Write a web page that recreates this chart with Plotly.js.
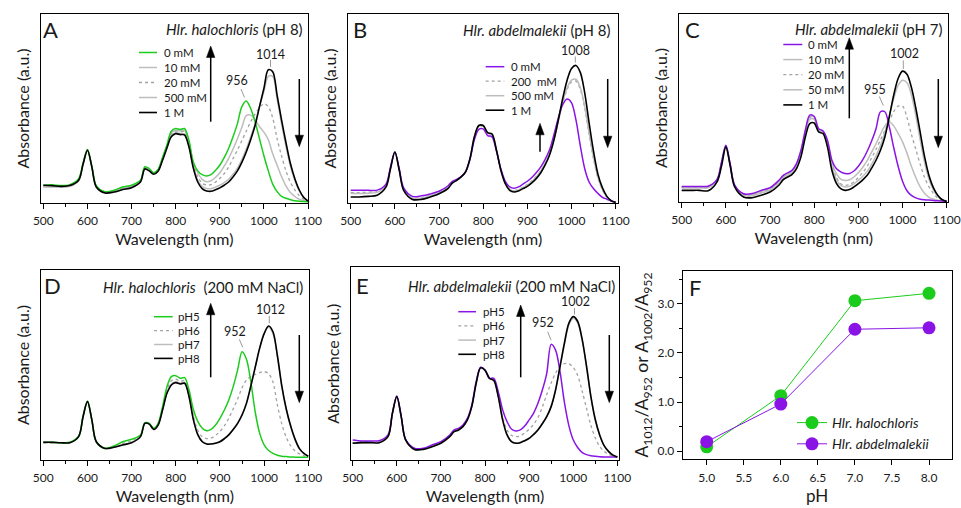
<!DOCTYPE html>
<html><head><meta charset="utf-8">
<script src="https://cdn.plot.ly/plotly-3.0.1.min.js"></script>
<style>html,body{margin:0;padding:0;background:#fff}#chart{width:961px;height:508px}</style>
</head><body><div id="chart"></div>
<script>
// ---------- DATA ----------
const wavelength = [500,520,540,560,580,590,600,610,620,640,660,680,700,720,730,740,750,760,770,780,790,800,810,820,830,840,850,860,870,880,890,900,910,920,930,940,950,960,970,980,990,1000,1010,1020,1030,1040,1050,1060,1070,1080,1090,1100];
const xTickVals = [500,600,700,800,900,1000,1100];

// Panel A: Hlr. halochloris (pH 8), NaCl series
const A_0mM   = [.094,.097,.092,.097,.129,.21,.283,.194,.092,.06,.067,.085,.094,.12,.192,.182,.16,.178,.24,.306,.38,.394,.389,.394,.332,.215,.17,.15,.143,.15,.172,.2,.24,.288,.35,.42,.51,.54,.50,.43,.34,.25,.17,.10,.06,.035,.025,.018,.012,.009,.008,.007];
const A_10mM  = [.085,.086,.085,.09,.122,.208,.28,.192,.09,.058,.064,.08,.09,.117,.187,.177,.157,.174,.235,.30,.37,.385,.382,.385,.322,.215,.16,.125,.113,.118,.135,.16,.195,.235,.285,.34,.40,.462,.465,.44,.405,.375,.335,.26,.20,.14,.09,.055,.035,.02,.012,.008];
const A_20mM  = [.088,.088,.086,.09,.12,.207,.28,.192,.09,.057,.062,.076,.086,.115,.185,.175,.156,.172,.232,.298,.365,.38,.377,.378,.315,.205,.14,.105,.095,.097,.11,.13,.155,.19,.235,.28,.33,.38,.43,.47,.505,.525,.51,.45,.34,.25,.17,.11,.07,.04,.02,.01];
const A_500mM = [.086,.085,.084,.088,.118,.205,.28,.19,.088,.055,.06,.073,.083,.113,.182,.172,.154,.17,.228,.295,.355,.372,.368,.366,.305,.195,.12,.088,.077,.076,.084,.094,.108,.126,.152,.185,.23,.285,.35,.42,.51,.59,.67,.67,.55,.42,.30,.195,.12,.065,.03,.01];
const A_1M    = [.094,.092,.088,.092,.12,.205,.279,.19,.085,.053,.058,.071,.081,.111,.18,.17,.152,.168,.225,.29,.35,.367,.362,.36,.297,.185,.111,.076,.064,.062,.07,.08,.094,.111,.138,.17,.215,.27,.335,.41,.51,.606,.705,.695,.57,.44,.32,.21,.13,.07,.03,.01];

// Panel B: Hlr. abdelmalekii (pH 8)
const B_0mM   = [.067,.067,.067,.068,.10,.19,.27,.18,.08,.035,.038,.048,.062,.09,.115,.125,.14,.165,.23,.335,.39,.392,.357,.35,.275,.18,.115,.085,.078,.085,.10,.115,.135,.16,.19,.23,.28,.36,.45,.52,.55,.53,.44,.30,.18,.11,.075,.05,.03,.02,.01,.005];
const B_200mM = [.055,.055,.057,.06,.095,.185,.27,.176,.073,.027,.028,.04,.055,.082,.11,.122,.139,.165,.233,.345,.405,.405,.368,.362,.28,.176,.107,.074,.066,.072,.085,.098,.117,.14,.17,.21,.26,.335,.43,.53,.60,.64,.645,.60,.50,.36,.23,.13,.07,.03,.01,.003];
const B_500mM = [.05,.05,.052,.056,.092,.183,.27,.175,.071,.025,.026,.038,.053,.08,.108,.121,.138,.165,.234,.347,.407,.407,.37,.363,.28,.175,.105,.071,.063,.069,.082,.095,.114,.137,.168,.208,.26,.336,.435,.535,.61,.65,.655,.61,.51,.37,.24,.135,.072,.032,.011,.003];
const B_1M    = [.032,.032,.035,.041,.085,.18,.27,.173,.067,.019,.019,.032,.049,.076,.105,.12,.138,.164,.235,.35,.41,.41,.372,.365,.28,.173,.102,.067,.058,.064,.076,.088,.106,.129,.159,.20,.253,.332,.438,.553,.65,.712,.728,.69,.58,.42,.27,.15,.08,.035,.012,.003];

// Panel C: Hlr. abdelmalekii (pH 7)
const C_0mM   = [.083,.082,.083,.084,.12,.21,.302,.2,.09,.044,.045,.062,.076,.115,.142,.155,.169,.204,.275,.382,.462,.455,.39,.378,.329,.222,.178,.16,.151,.152,.165,.19,.225,.27,.325,.39,.48,.48,.40,.29,.19,.11,.06,.035,.022,.015,.012,.01,.008,.006,.005,.004];
const C_10mM  = [.08,.08,.08,.081,.118,.207,.3,.198,.088,.04,.04,.057,.072,.11,.138,.152,.166,.2,.27,.378,.455,.452,.388,.377,.322,.212,.152,.122,.115,.118,.133,.155,.185,.22,.265,.31,.36,.405,.425,.405,.365,.32,.26,.19,.13,.08,.045,.025,.015,.01,.006,.004];
const C_20mM  = [.078,.078,.078,.079,.117,.205,.299,.197,.087,.038,.037,.053,.068,.105,.135,.148,.162,.195,.265,.372,.45,.448,.386,.375,.315,.205,.132,.097,.089,.092,.108,.13,.158,.19,.235,.28,.33,.38,.43,.48,.51,.51,.45,.36,.28,.20,.13,.08,.045,.02,.01,.004];
const C_50mM  = [.075,.075,.075,.075,.115,.2,.297,.195,.085,.035,.033,.048,.064,.1,.13,.143,.157,.19,.258,.365,.44,.44,.383,.372,.31,.19,.12,.088,.08,.083,.097,.115,.137,.163,.2,.245,.30,.37,.46,.55,.62,.648,.635,.57,.46,.33,.21,.12,.065,.03,.01,.003];
const C_1M    = [.062,.062,.062,.06,.107,.19,.293,.19,.08,.027,.023,.036,.053,.089,.119,.133,.147,.178,.24,.346,.417,.42,.373,.364,.293,.169,.101,.071,.062,.066,.08,.098,.118,.142,.18,.222,.275,.346,.453,.568,.657,.696,.68,.61,.50,.37,.24,.14,.075,.035,.012,.003];

// Panel D: Hlr. halochloris (200 mM NaCl), pH series
const D_pH5 = [.093,.093,.091,.093,.125,.23,.31,.21,.096,.061,.074,.096,.109,.132,.196,.193,.167,.193,.281,.386,.439,.444,.43,.433,.368,.263,.202,.167,.154,.161,.184,.219,.263,.316,.386,.474,.57,.53,.41,.25,.14,.08,.05,.035,.025,.02,.018,.016,.015,.014,.014,.014];
const D_pH6 = [.092,.092,.09,.092,.124,.229,.308,.21,.096,.061,.07,.087,.1,.127,.194,.191,.164,.188,.272,.368,.417,.425,.415,.418,.35,.23,.155,.122,.113,.115,.13,.15,.18,.22,.27,.32,.38,.42,.44,.45,.46,.465,.455,.41,.29,.19,.12,.075,.048,.032,.022,.016];
const D_pH7 = [.092,.092,.09,.091,.123,.228,.307,.21,.096,.061,.068,.081,.093,.124,.193,.19,.162,.185,.265,.355,.40,.412,.405,.408,.337,.213,.134,.098,.086,.086,.09,.098,.114,.134,.162,.195,.24,.30,.392,.49,.588,.665,.70,.665,.545,.385,.265,.175,.107,.058,.034,.02];
const D_pH8 = [.093,.093,.091,.091,.123,.228,.307,.21,.096,.061,.067,.079,.091,.123,.193,.189,.161,.184,.263,.351,.395,.407,.40,.404,.333,.21,.132,.096,.084,.084,.088,.096,.112,.132,.16,.193,.237,.298,.39,.49,.59,.665,.705,.675,.55,.39,.27,.18,.11,.06,.035,.02];

// Panel E: Hlr. abdelmalekii (200 mM NaCl), pH series
const E_pH5 = [.104,.099,.099,.10,.13,.242,.332,.228,.107,.061,.061,.078,.095,.13,.156,.164,.182,.216,.285,.407,.481,.465,.424,.424,.355,.26,.199,.161,.151,.156,.176,.208,.242,.294,.363,.45,.60,.57,.46,.30,.18,.105,.065,.04,.028,.022,.019,.017,.016,.016,.015,.015];
const E_pH6 = [.09,.092,.092,.093,.124,.242,.33,.226,.105,.057,.057,.072,.09,.125,.15,.159,.176,.211,.28,.40,.48,.466,.424,.416,.34,.225,.155,.128,.121,.125,.14,.16,.185,.22,.275,.34,.40,.45,.485,.50,.50,.48,.44,.36,.27,.18,.115,.07,.045,.03,.02,.015];
const E_pH7 = [.088,.09,.09,.091,.122,.242,.33,.226,.105,.056,.056,.07,.088,.122,.148,.157,.174,.209,.278,.399,.479,.466,.424,.413,.332,.21,.132,.097,.089,.092,.102,.114,.134,.158,.19,.228,.28,.365,.482,.60,.70,.735,.712,.625,.487,.33,.21,.13,.076,.046,.026,.016];
const E_pH8 = [.087,.09,.09,.09,.121,.242,.329,.225,.104,.055,.055,.069,.087,.121,.147,.156,.173,.208,.277,.398,.478,.467,.424,.412,.329,.208,.13,.095,.087,.09,.10,.112,.132,.156,.188,.225,.277,.363,.484,.606,.709,.744,.72,.63,.49,.33,.21,.13,.075,.045,.025,.015];

// Panel F: absorbance ratio vs pH
const pH = [5, 6, 7, 8];
const ratioHalochloris = [0.09, 1.13, 3.06, 3.21];
const ratioAbdelmalekii = [0.195, 0.96, 2.48, 2.51];
const pHTicks = [5, 5.5, 6, 6.5, 7, 7.5, 8];

// ---------- STYLE ----------
const FW = 961, FH = 508;
const px = x => x / FW, py = y => 1 - y / FH;
const GREEN = '#1ccc1c', PURPLE = '#8a14e6', BLACK = '#000000', GRAY = '#bdbdbd', DOT = '#a3a3a3';
const FONT = 'Lato, "Open Sans", sans-serif';
const STY = {
  green:  {color: GREEN,  width: 1.5, dash: 'solid'},
  purple: {color: PURPLE, width: 1.5, dash: 'solid'},
  black:  {color: BLACK,  width: 1.6, dash: 'solid'},
  gray:   {color: GRAY,   width: 1.5, dash: 'solid'},
  dot:    {color: DOT,    width: 1.3, dash: 'dot'}
};

const traces = [];
function spec(ax, y, name, s) {
  traces.push({x: wavelength, y: y, name: name, type: 'scatter', mode: 'lines',
    xaxis: 'x' + ax, yaxis: 'y' + ax, showlegend: false, hoverinfo: 'skip',
    line: {color: STY[s].color, width: STY[s].width, dash: STY[s].dash, shape: 'spline', smoothing: 0.9}});
}
// A
spec('', A_10mM, '10 mM', 'gray'); spec('', A_20mM, '20 mM', 'dot'); spec('', A_500mM, '500 mM', 'gray');
spec('', A_0mM, '0 mM', 'green'); spec('', A_1M, '1 M', 'black');
// B
spec('2', B_200mM, '200 mM', 'dot'); spec('2', B_500mM, '500 mM', 'gray');
spec('2', B_0mM, '0 mM', 'purple'); spec('2', B_1M, '1 M', 'black');
// C
spec('3', C_10mM, '10 mM', 'gray'); spec('3', C_20mM, '20 mM', 'dot'); spec('3', C_50mM, '50 mM', 'gray');
spec('3', C_0mM, '0 mM', 'purple'); spec('3', C_1M, '1 M', 'black');
// D
spec('4', D_pH6, 'pH6', 'dot'); spec('4', D_pH7, 'pH7', 'gray');
spec('4', D_pH5, 'pH5', 'green'); spec('4', D_pH8, 'pH8', 'black');
// E
spec('5', E_pH6, 'pH6', 'dot'); spec('5', E_pH7, 'pH7', 'gray');
spec('5', E_pH5, 'pH5', 'purple'); spec('5', E_pH8, 'pH8', 'black');
// F
traces.push({x: pH, y: ratioHalochloris, name: '<i>Hlr. halochloris</i>', type: 'scatter', mode: 'lines+markers',
  xaxis: 'x6', yaxis: 'y6', line: {color: GREEN, width: 1}, marker: {color: GREEN, size: 13}});
traces.push({x: pH, y: ratioAbdelmalekii, name: '<i>Hlr. abdelmalekii</i>', type: 'scatter', mode: 'lines+markers',
  xaxis: 'x6', yaxis: 'y6', line: {color: PURPLE, width: 1}, marker: {color: PURPLE, size: 13}});

// ---------- AXES ----------
function specX(l, r, range, anchor) {
  return {domain: [px(l), px(r)], range: range, anchor: anchor, showline: true, mirror: true,
    linecolor: '#000', linewidth: 1, ticks: 'outside', ticklen: 5, tickwidth: 1, tickcolor: '#000',
    tickvals: xTickVals, minor: {dtick: 50, tick0: 500, ticks: 'outside', ticklen: 3, tickcolor: '#000'},
    showgrid: false, zeroline: false, tickfont: {size: 12}, ticklabelstandoff: 2,
    title: {text: 'Wavelength (nm)', font: {size: 16}, standoff: 6}};
}
function specY(top, bot, anchor) {
  return {domain: [py(bot), py(top)], range: [0, 1], anchor: anchor, showline: true, mirror: true,
    linecolor: '#000', linewidth: 1, ticks: '', showticklabels: false, showgrid: false, zeroline: false,
    title: {text: 'Absorbance (a.u.)', font: {size: 16}, standoff: 6}};
}

const layout = {
  width: FW, height: FH, margin: {l: 0, r: 0, t: 0, b: 0},
  paper_bgcolor: '#fff', plot_bgcolor: '#fff',
  font: {family: FONT, color: '#1a1a1a', size: 12},
  showlegend: true,
  legend: {x: px(792), y: py(407), xanchor: 'left', yanchor: 'top', font: {size: 14},
    bgcolor: 'rgba(0,0,0,0)', borderwidth: 0, itemwidth: 30, tracegroupgap: 0},
  xaxis:  specX(40.7, 308, [494, 1100], 'y'),
  yaxis:  specY(14, 203, 'x'),
  xaxis2: specX(348.3, 617.7, [494.6, 1104.5], 'y2'),
  yaxis2: specY(14, 203, 'x2'),
  xaxis3: specX(679.3, 948.3, [494.6, 1103.6], 'y3'),
  yaxis3: specY(14, 202, 'x3'),
  xaxis4: specX(40.7, 309, [494.1, 1101.6], 'y4'),
  yaxis4: specY(270, 460, 'x4'),
  xaxis5: specX(350.7, 619.3, [495.5, 1104.5], 'y5'),
  yaxis5: specY(267.3, 460, 'x5'),
  xaxis6: {domain: [px(682.7), px(951.7)], range: [4.676, 8.306], anchor: 'y6', showline: true, mirror: true,
    linecolor: '#000', linewidth: 1, ticks: 'outside', ticklen: 5, tickcolor: '#000', tickvals: pHTicks,
    tickformat: '.1f', showgrid: false, zeroline: false, tickfont: {size: 12}, ticklabelstandoff: 2,
    title: {text: 'pH', font: {size: 17}, standoff: 6}},
  yaxis6: {domain: [py(459.3), py(270.7)], range: [-0.163, 3.67], anchor: 'x6', showline: true, mirror: true,
    linecolor: '#000', linewidth: 1, ticks: 'outside', ticklen: 5, tickcolor: '#000', tick0: 0, dtick: 1,
    minor: {dtick: 0.5, tick0: 0, ticks: 'outside', ticklen: 3, tickcolor: '#000'},
    tickformat: '.1f', showgrid: false, zeroline: false, tickfont: {size: 12},
    title: {text: 'A<sub>1012</sub>/A<sub>952</sub> or A<sub>1002</sub>/A<sub>952</sub>', font: {size: 17.5}, standoff: 4}},
  annotations: [], shapes: []
};

// ---------- ANNOTATIONS ----------
const ann = layout.annotations, shp = layout.shapes;
function txt(x, y, text, size, anchor, extra) {
  ann.push(Object.assign({xref: 'paper', yref: 'paper', x: px(x), y: py(y), text: text, showarrow: false,
    xanchor: anchor || 'left', yanchor: 'middle', font: {size: size}}, extra || {}));
}
function seg(x0, y0, x1, y1, color, width, dash) {
  shp.push({type: 'line', xref: 'paper', yref: 'paper', x0: px(x0), y0: py(y0), x1: px(x1), y1: py(y1),
    line: {color: color, width: width, dash: dash || 'solid'}});
}
// vertical arrow: shaft line + filled triangular head
function arrow(x, tipY, tailY) {
  const dir = tipY > tailY ? 1 : -1, headLen = 11.5, halfW = 4.2;
  const baseY = tipY - dir * headLen;
  seg(x, tailY, x, baseY + dir * 1, '#000', 1.5);
  shp.push({type: 'path', xref: 'paper', yref: 'paper',
    path: 'M' + px(x) + ',' + py(tipY) + ' L' + px(x - halfW) + ',' + py(baseY) + ' L' + px(x + halfW) + ',' + py(baseY) + ' Z',
    fillcolor: '#000', line: {color: '#000', width: 0.5}});
}
function legendBlock(x0, x1, tx, rows, labels, styles) {
  rows.forEach((yy, i) => {
    const s = STY[styles[i]];
    seg(x0, yy, x1, yy, s.color, s.width, s.dash);
    txt(tx, yy, labels[i], 11.5, 'left');
  });
}

// panel letters
[['A', 41, 29.5], ['B', 351, 29.5], ['C', 683, 29.5], ['D', 41.5, 285.5], ['E', 353.5, 285.5], ['F', 686.5, 287.5]]
  .forEach(a => txt(a[1], a[2], a[0], 22, 'left'));
// panel titles
txt(305, 28.5, '<i>Hlr. halochloris</i> (pH 8)', 15, 'right');
txt(612, 29.5, '<i>Hlr. abdelmalekii</i> (pH 8)', 15, 'right');
txt(944, 28.5, '<i>Hlr. abdelmalekii</i> (pH 7)', 15, 'right');
txt(305, 286.5, '<i>Hlr. halochloris</i>&nbsp; (200 mM NaCl)', 15, 'right');
txt(617, 286, '<i>Hlr. abdelmalekii</i> (200 mM NaCl)', 15, 'right');

// legends
legendBlock(139, 157, 162, [52.5, 67.5, 82.5, 97.5, 112.5], ['0 mM', '10 mM', '20 mM', '500 mM', '1 M'], ['green', 'gray', 'dot', 'gray', 'black']);
legendBlock(485.7, 504.3, 508.5, [66.7, 81.2, 95.7, 110.2], ['0 mM', '200&nbsp; mM', '500 mM', '1 M'], ['purple', 'dot', 'gray', 'black']);
legendBlock(783.3, 802.3, 806, [44.5, 59.6, 74.7, 89.8, 104.9], ['0 mM', '10 mM', '20 mM', '50 mM', '1 M'], ['purple', 'gray', 'dot', 'gray', 'black']);
legendBlock(154, 172.7, 176, [316.7, 330.6, 344.5, 358.4], ['pH5', 'pH6', 'pH7', 'pH8'], ['green', 'dot', 'gray', 'black']);
legendBlock(458.3, 476, 481, [311.7, 325.9, 340.1, 354.3], ['pH5', 'pH6', 'pH7', 'pH8'], ['purple', 'dot', 'gray', 'black']);

// peak labels + leaders
const LEAD = '#9a9a9a';
txt(270.5, 54, '1014', 12.5, 'center'); seg(270.5, 60, 270.5, 67, LEAD, 1);
txt(236.7, 81, '956', 12.5, 'center'); seg(241, 89, 244.5, 97.5, LEAD, 1);
txt(575.7, 50, '1008', 12.5, 'center'); seg(575.3, 56.5, 575.3, 62.5, LEAD, 1);
txt(904.5, 53.5, '1002', 12.5, 'center'); seg(903.3, 60.5, 903.3, 69, LEAD, 1);
txt(875, 89, '955', 12.5, 'center'); seg(879.3, 96.5, 883.3, 105.5, LEAD, 1);
txt(270.7, 309.5, '1012', 12.5, 'center'); seg(269.3, 316, 269.3, 323.3, LEAD, 1);
txt(235, 331.2, '952', 12.5, 'center'); seg(239.3, 339.3, 242.7, 347.3, LEAD, 1);
txt(575.5, 301.2, '1002', 12.5, 'center'); seg(574.5, 308, 574.5, 314.5, LEAD, 1);
txt(543.3, 322.8, '952', 12.5, 'center'); seg(547.7, 331.7, 551, 340, LEAD, 1);

// arrows (x, tipY, tailY)
arrow(210.7, 46, 121.7); arrow(299.3, 146.7, 79);
arrow(540, 123.3, 151.7); arrow(607.7, 147.7, 79);
arrow(849.3, 37.7, 118.3); arrow(938.3, 147.7, 79);
arrow(210.7, 303.3, 377.3); arrow(299.3, 402.7, 335);
arrow(520.7, 305, 377.3); arrow(609.3, 402.7, 335);

Plotly.newPlot('chart', traces, layout, {staticPlot: true, displayModeBar: false});
</script>
</body></html>
